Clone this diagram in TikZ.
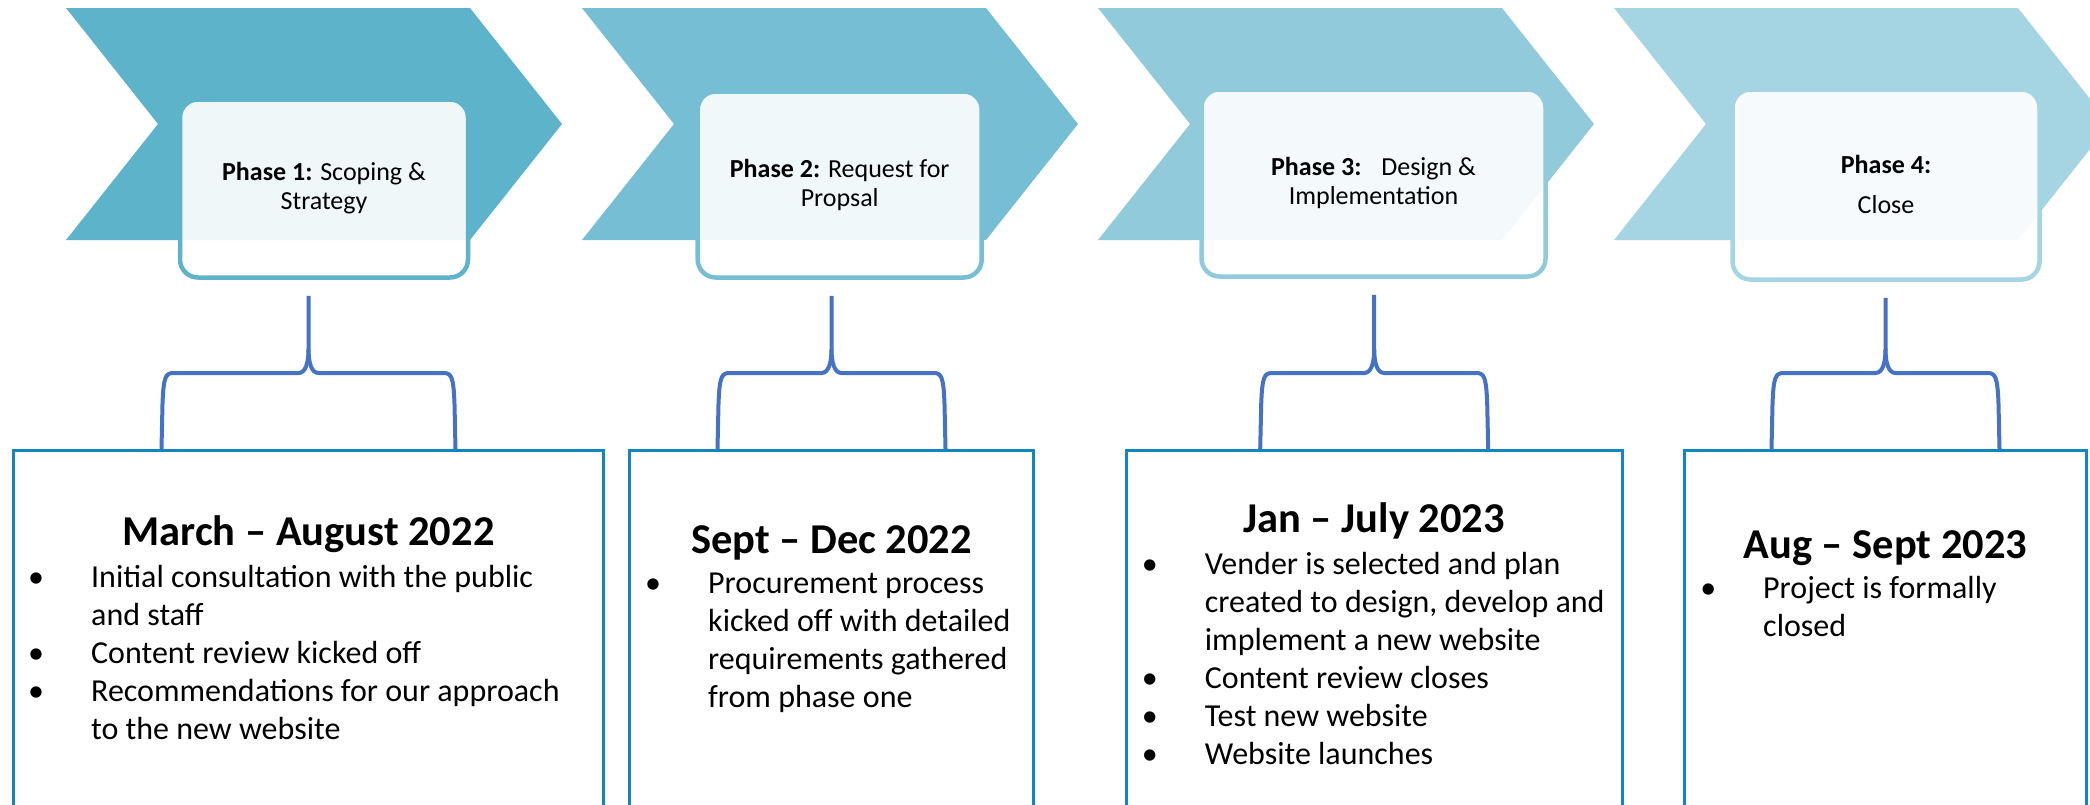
\documentclass[tikz,border=0pt]{standalone}
\usepackage{fontspec}
\setmainfont{Carlito}
\usetikzlibrary{positioning,calc}
\definecolor{phaseA}{HTML}{5DB3CA}
\definecolor{phaseB}{HTML}{76BED4}
\definecolor{phaseC}{HTML}{91CADB}
\definecolor{phaseD}{HTML}{A5D5E2}
\definecolor{boxcol}{HTML}{1287BF}
\definecolor{bracecol}{HTML}{4472C4}
\tikzset{
phasebox/.style={draw=#1, line width=4.5pt, rounded corners=18pt, fill=white, fill opacity=0.9, text opacity=1, align=center, font=\fontsize{26}{29}\selectfont},
datebox/.style={draw=boxcol, line width=3pt, anchor=north, minimum height=420pt},
datetitle/.style={anchor=base, inner sep=0pt, font=\fontsize{42.5}{48}\selectfont\bfseries},
itemlist/.style={anchor=base west, inner sep=0pt, font=\fontsize{32}{38}\selectfont},
brace/.style={draw=bracecol, line width=4pt, line join=round}
}
% chevron from left x #1, colour #2
\newcommand \mychevron[2]
{
\fill[#2] (#1,8) -- ++(404,0) -- ++(92,116) -- ++(-92,116) -- ++(-404,0) -- ++(92,-116) -- cycle;
}
% brace standing on node #1, up to node #2, half width #3
\newcommand \mybrace[3]
{
\coordinate (top) at ($(#1.north |- #2.south)+(0,-16pt)$);
\begin{scope}[shift={(#1.north)}]
\draw[brace] (-#3,0) -- (-#3+1,-45) .. controls (-#3+2,-72) and (-#3+4,-76) .. (-#3+12,-76) -- (-10,-76) .. controls (-3,-76) and (0,-86) .. (0,-100) -- (top);
\draw[brace] (#3,0) -- (#3-1,-45) .. controls (#3-2,-72) and (#3-4,-76) .. (#3-12,-76) -- (10,-76) .. controls (3,-76) and (0,-86) .. (0,-100);
\end{scope}
}
\newcommand \myitems[1]{\begin{tabular}[t]{@{}p{55pt}@{}l@{}}#1\end{tabular}}
\newcommand \bul{\makebox[0pt]{\textbullet}}

\begin{document}
\begin{tikzpicture}[x=1pt, y=-1pt]
\useasboundingbox (0,0) rectangle (2090,804);
\clip (0,0) rectangle (2090,804);
\foreach \x/\c in {66/phaseA,582/phaseB,1098/phaseC,1614/phaseD} {\mychevron{\x}{\c}}
% phases
\node[phasebox=phaseA, minimum width=288pt, minimum height=178pt] (p1) at (324,188.5) {\textbf{Phase 1:} Scoping \&\\Strategy};
\node[phasebox=phaseB, minimum width=284pt, minimum height=186pt] (p2) at (839.7,184.5) {\textbf{Phase 2:} Request for\\Propsal};
\node[phasebox=phaseC, minimum width=344pt, minimum height=187pt] (p3) at (1373.5,183) {\textbf{Phase 3:}\hspace*{14pt} Design \&\\Implementation};
\node[phasebox=phaseD, minimum width=307pt, minimum height=190pt] (p4) at (1886,184.5) {\textbf{Phase 4:}\\[11pt]Close};
% dates
\node[datebox, minimum width=590pt] (d1) at (308.5,449) {};
\node[datebox, minimum width=404pt] (d2) at (831.5,449) {};
\node[datebox, minimum width=496pt] (d3) at (1374.2,449) {};
\node[datebox, minimum width=402pt] (d4) at (1885.5,449) {};
\node[datetitle] (t1) at ($(d1.north)+(0,96)$) {March – August 2022};
\node[datetitle] (t2) at ($(d2.north)+(0,104)$) {Sept – Dec 2022};
\node[datetitle] (t3) at ($(d3.north)+(0,83)$) {Jan – July 2023};
\node[datetitle] (t4) at ($(d4.north)+(0,109)$) {Aug – Sept 2023};
\node[itemlist] (l1) at ($(t1.base -| d1.west)+(24,42)$) {\myitems{\bul & Initial consultation with the public\\ & and staff\\ \bul & Content review kicked off\\ \bul & Recommendations for our approach\\ & to the new website}};
\node[itemlist] (l2) at ($(t2.base -| d2.west)+(25,40)$) {\myitems{\bul & Procurement process\\ & kicked off with detailed\\ & requirements gathered\\ & from phase one}};
\node[itemlist] (l3) at ($(t3.base -| d3.west)+(25,42)$) {\myitems{\bul & Vender is selected and plan\\ & created to design, develop and\\ & implement a new website\\ \bul & Content review closes\\ \bul & Test new website\\ \bul & Website launches}};
\node[itemlist] (l4) at ($(t4.base -| d4.west)+(25,40)$) {\myitems{\bul & Project is formally\\ & closed}};
% braces
\mybrace{d1}{p1}{147}
\mybrace{d2}{p2}{114}
\mybrace{d3}{p3}{114}
\mybrace{d4}{p4}{114}
\end{tikzpicture}
\end{document}
